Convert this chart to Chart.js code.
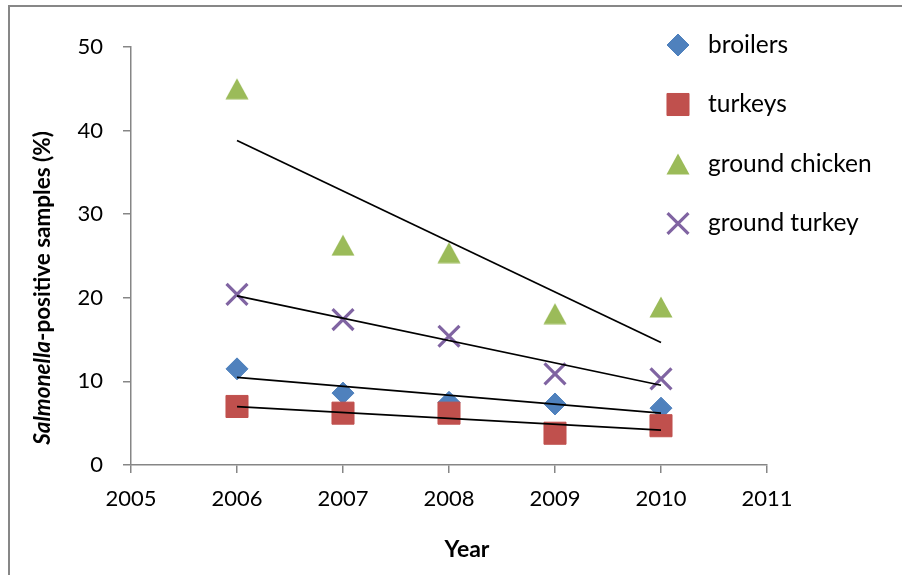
<!DOCTYPE html>
<html>
<head>
<meta charset="utf-8">
<script src="https://cdn.jsdelivr.net/npm/chart.js@4/dist/chart.umd.min.js"></script>
<style>
  html, body { margin: 0; padding: 0; background: #fff; }
  #wrap { position: relative; width: 902px; height: 575px; overflow: hidden; }
  #chart { position: absolute; left: 0; top: 0; }
  #frame { position: absolute; left: 8px; top: 5px; width: 1000px; height: 1000px;
           border-left: 2px solid #878787; border-top: 2px solid #878787; pointer-events: none; }
</style>
</head>
<body>
<div id="wrap">
  <canvas id="chart" width="902" height="575"></canvas>
  <div id="frame"></div>
</div>
<script>
// values
const years = [2006, 2007, 2008, 2009, 2010]
const broilers = [11.5, 8.6, 7.5, 7.3, 6.8]
const turkeys = [7.0, 6.2, 6.2, 3.8, 4.7]
const groundChicken = [45.0, 26.3, 25.4, 18.1, 18.9]
const groundTurkey = [20.4, 17.4, 15.4, 10.9, 10.3]
const seriesNames = ['broilers', 'turkeys', 'ground chicken', 'ground turkey']
const xRange = [2005, 2011]
const yRange = [0, 50]

const FONT = 'Lato, "Open Sans", sans-serif'
const AXIS_GREY = '#868686'

// least squares trend line, like the spreadsheet's linear trendline
function trendLine(xs, ys) {
  const n = xs.length
  const mx = xs.reduce((a, b) => a + b, 0) / n
  const my = ys.reduce((a, b) => a + b, 0) / n
  let sxy = 0, sxx = 0
  xs.forEach((x, i) => {
    sxy += (x - mx) * (ys[i] - my)
    sxx += (x - mx) * (x - mx)
  })
  const slope = sxy / sxx
  const icpt = my - slope * mx
  return [
    { x: xs[0], y: icpt + slope * xs[0] },
    { x: xs[n - 1], y: icpt + slope * xs[n - 1] },
  ]
}

function points(ys) {
  return years.map((x, i) => ({ x, y: ys[i] }))
}

// triangle marker centred on its box
function triangleMarker(w, h, color) {
  const c = document.createElement('canvas')
  c.width = w
  c.height = h
  const g = c.getContext('2d')
  g.fillStyle = color
  g.beginPath()
  g.moveTo(w / 2, 0.5)
  g.lineTo(w - 0.5, h - 0.5)
  g.lineTo(0.5, h - 0.5)
  g.closePath()
  g.fill()
  return c
}

function markers(label, ys, color, style, radius, order, borderWidth) {
  return {
    type: 'scatter',
    label,
    data: points(ys),
    pointStyle: style,
    pointRadius: radius,
    pointHoverRadius: radius,
    backgroundColor: color,
    borderColor: color,
    borderWidth: borderWidth,
    pointBorderWidth: borderWidth,
    order,
  }
}

function trend(ys) {
  return {
    type: 'line',
    isTrend: true,
    data: trendLine(years, ys),
    borderColor: '#000',
    borderWidth: 1.75,
    pointRadius: 0,
    fill: false,
    order: 0,
  }
}

const datasets = [
  markers(seriesNames[0], broilers, '#4F81BD', 'rectRot', 11, 4, 1),
  markers(seriesNames[1], turkeys, '#C0504D', 'rect', 15.6, 3, 1),
  markers(seriesNames[2], groundChicken, '#9BBB59', triangleMarker(24, 22, '#9BBB59'), 12, 2, 0),
  markers(seriesNames[3], groundTurkey, '#8064A2', 'crossRot', 14.8, 1, 3.2),
  trend(broilers),
  trend(turkeys),
  trend(groundChicken),
  trend(groundTurkey),
]

const sideLegend = {
  id: 'sideLegend',
  afterDraw(chart) {
    const ctx = chart.ctx
    const items = chart.data.datasets.filter(d => !d.isTrend)
    ctx.save()
    items.forEach((d, i) => {
      const y = 45 + i * 59.5
      ctx.fillStyle = d.backgroundColor
      ctx.strokeStyle = d.borderColor
      ctx.lineWidth = d.borderWidth
      Chart.helpers.drawPoint(ctx, {
        pointStyle: d.pointStyle,
        radius: d.pointRadius,
        rotation: 0,
        borderWidth: d.borderWidth,
      }, 678, y)
      ctx.fillStyle = '#000'
      ctx.font = '24.5px ' + FONT
      ctx.textAlign = 'left'
      ctx.textBaseline = 'middle'
      ctx.fillText(d.label, 708, y)
    })
    ctx.restore()
  },
}

const axisTitles = {
  id: 'axisTitles',
  afterDraw(chart) {
    const ctx = chart.ctx
    ctx.save()
    ctx.fillStyle = '#000'
    ctx.textBaseline = 'middle'

    // y title with italic genus name
    const a = 'Salmonella'
    const b = '-positive samples (%)'
    const fa = 'italic bold 22.5px ' + FONT
    const fb = 'bold 22.5px ' + FONT
    ctx.font = fa
    const wa = ctx.measureText(a).width
    ctx.font = fb
    const wb = ctx.measureText(b).width
    ctx.translate(43, 288)
    ctx.rotate(-Math.PI / 2)
    ctx.textAlign = 'left'
    ctx.font = fa
    ctx.fillText(a, -(wa + wb) / 2, 0)
    ctx.font = fb
    ctx.fillText(b, -(wa + wb) / 2 + wa, 0)
    ctx.restore()

    ctx.save()
    ctx.fillStyle = '#000'
    ctx.font = 'bold 23px ' + FONT
    ctx.textAlign = 'center'
    ctx.textBaseline = 'middle'
    ctx.fillText('Year', 467, 550)
    ctx.restore()
  },
}

new Chart(document.getElementById('chart').getContext('2d'), {
  type: 'scatter',
  data: { datasets },
  plugins: [sideLegend, axisTitles],
  options: {
    responsive: false,
    animation: false,
    devicePixelRatio: 1,
    layout: { padding: { top: 47, right: 135, left: 0, bottom: 0 } },
    plugins: {
      legend: { display: false },
      tooltip: { enabled: false },
    },
    scales: {
      x: {
        type: 'linear',
        min: xRange[0],
        max: xRange[1],
        afterFit: s => { s.height = 110 },
        ticks: {
          stepSize: 1,
          color: '#000',
          padding: 13,
          font: { family: FONT, size: 22 },
          callback: v => String(v),
        },
        grid: { drawOnChartArea: false, drawTicks: true, tickLength: 8, color: AXIS_GREY, lineWidth: 1.5 },
        border: { display: true, color: AXIS_GREY, width: 1.5 },
      },
      y: {
        min: yRange[0],
        max: yRange[1],
        afterFit: s => { s.width = 131 },
        ticks: {
          stepSize: 10,
          color: '#000',
          padding: 20,
          font: { family: FONT, size: 22 },
        },
        grid: { drawOnChartArea: false, drawTicks: true, tickLength: 8, color: AXIS_GREY, lineWidth: 1.5 },
        border: { display: true, color: AXIS_GREY, width: 1.5 },
      },
    },
  },
})
</script>
</body>
</html>
